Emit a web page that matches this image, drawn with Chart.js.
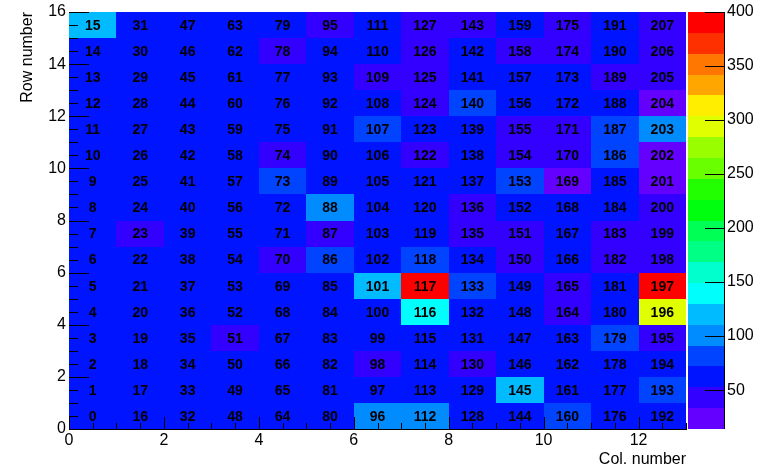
<!DOCTYPE html>
<html>
<head>
<meta charset="utf-8">
<script src="https://cdn.jsdelivr.net/npm/chart.js@4.4.1/dist/chart.umd.min.js"></script>
<style>
  html, body { margin: 0; padding: 0; background: #ffffff; }
  canvas { display: block; }
</style>
</head>
<body>
<canvas id="map" width="765" height="467"></canvas>
<script>
// Channel map: 13 columns x 16 rows, channel = column * 16 + row
const columnIndex = [0, 1, 2, 3, 4, 5, 6, 7, 8, 9, 10, 11, 12];
const rowIndex = [0, 1, 2, 3, 4, 5, 6, 7, 8, 9, 10, 11, 12, 13, 14, 15];

// Counts per column, listed from row 0 up to row 15
const col00 = [62, 60, 63, 58, 61, 64, 59, 62, 60, 63, 61, 57, 64, 60, 62, 119];
const col01 = [61, 63, 58, 62, 60, 65, 59, 44, 61, 63, 57, 62, 60, 64, 59, 61];
const col02 = [60, 62, 64, 59, 63, 61, 58, 62, 60, 57, 63, 61, 65, 59, 62, 60];
const col03 = [63, 59, 61, 45, 62, 60, 64, 58, 61, 63, 59, 62, 57, 61, 60, 63];
const col04 = [61, 60, 62, 58, 63, 60, 46, 64, 59, 82, 43, 61, 62, 60, 47, 58];
const col05 = [59, 62, 60, 63, 61, 58, 84, 45, 101, 60, 62, 64, 59, 61, 63, 44];
const col06 = [103, 61, 46, 63, 60, 121, 62, 59, 64, 60, 58, 83, 62, 45, 61, 63];
const col07 = [99, 60, 63, 58, 141, 400, 80, 62, 60, 64, 44, 59, 42, 46, 45, 43];
const col08 = [62, 59, 45, 61, 63, 81, 60, 47, 43, 62, 58, 64, 79, 61, 60, 46];
const col09 = [60, 118, 62, 59, 63, 61, 44, 46, 60, 84, 42, 47, 63, 58, 45, 61];
const col10 = [80, 62, 60, 57, 45, 43, 61, 59, 63, 24, 46, 44, 60, 62, 47, 42];
const col11 = [61, 63, 59, 82, 60, 62, 46, 43, 61, 58, 79, 85, 63, 44, 60, 62];
const col12 = [60, 78, 62, 44, 294, 389, 46, 43, 47, 27, 14, 100, 22, 45, 42, 46];

// Axis tick labels
const xTickValues = [0, 2, 4, 6, 8, 10, 12];
const yTickValues = [0, 2, 4, 6, 8, 10, 12, 14, 16];
const zTickValues = [50, 100, 150, 200, 250, 300, 350, 400];

const columnCounts = [col00, col01, col02, col03, col04, col05, col06,
                      col07, col08, col09, col10, col11, col12];

const cells = [];
columnIndex.forEach(c => {
  rowIndex.forEach(r => {
    cells.push({ x: c + 0.5, y: r + 0.5, v: columnCounts[c][r], ch: c * 16 + r });
  });
});

const allCounts = cells.map(p => p.v);
const zMin = Math.min(...allCounts);
const zMax = Math.max(...allCounts);

// Rainbow palette (violet -> red), 50 colours, 20 contour levels
const N_COLOURS = 50;
const N_LEVELS = 20;
const paletteColours = [];
for (let k = 0; k < N_COLOURS; k++) {
  const hue = k === N_COLOURS - 1 ? 0 : 280 - (k + 1) * (280 / N_COLOURS);
  paletteColours.push(`hsl(${hue}, 100%, 50%)`);
}
function levelColour(level) {
  const k = Math.floor((level + 0.99) * N_COLOURS / N_LEVELS);
  return paletteColours[Math.min(k, N_COLOURS - 1)];
}
function valueColour(v) {
  let level = Math.floor(0.01 + (v - zMin) * N_LEVELS / (zMax - zMin));
  level = Math.max(0, Math.min(N_LEVELS - 1, level));
  return levelColour(level);
}

const FONT = '"Liberation Sans", Arial, Helvetica, sans-serif';

const heatmapPlugin = {
  id: 'heatmap',
  beforeDatasetsDraw(chart) {
    const { ctx, scales: { x, y } } = chart;
    ctx.save();
    for (const p of chart.data.datasets[0].data) {
      const x0 = Math.round(x.getPixelForValue(p.x - 0.5));
      const x1 = Math.round(x.getPixelForValue(p.x + 0.5));
      const y0 = Math.round(y.getPixelForValue(p.y + 0.5));
      const y1 = Math.round(y.getPixelForValue(p.y - 0.5));
      ctx.fillStyle = valueColour(p.v);
      ctx.fillRect(x0, y0, x1 - x0, y1 - y0);
    }
    ctx.restore();
  },
  afterDatasetsDraw(chart) {
    const { ctx, chartArea, scales: { x, y, z } } = chart;
    ctx.save();

    // channel numbers
    ctx.fillStyle = '#000';
    ctx.font = 'bold 14px ' + FONT;
    ctx.textAlign = 'center';
    ctx.textBaseline = 'middle';
    for (const p of chart.data.datasets[0].data) {
      ctx.fillText(String(p.ch), x.getPixelForValue(p.x), y.getPixelForValue(p.y) + 1);
    }

    // inward tick marks
    ctx.strokeStyle = '#000';
    ctx.lineWidth = 1;
    ctx.beginPath();
    for (let v = 0; v <= 13; v += 0.5) {
      const px = Math.round(x.getPixelForValue(v)) + 0.5;
      const len = xTickValues.includes(v) ? 12 : 6;
      ctx.moveTo(px, chartArea.bottom);
      ctx.lineTo(px, chartArea.bottom - len);
    }
    for (let v = 0; v <= 16; v += 0.5) {
      const py = Math.round(y.getPixelForValue(v)) + 0.5;
      const len = yTickValues.includes(v) ? 20 : 9;
      ctx.moveTo(chartArea.left, py);
      ctx.lineTo(chartArea.left + len, py);
    }
    ctx.stroke();

    // colour scale
    const px0 = z.left + 2;
    const px1 = z.left + 38;
    const dz = (zMax - zMin) / N_LEVELS;
    for (let c = 0; c < N_LEVELS; c++) {
      const top = Math.round(z.getPixelForValue(zMin + (c + 1) * dz));
      const bot = Math.round(z.getPixelForValue(zMin + c * dz));
      ctx.fillStyle = levelColour(c);
      ctx.fillRect(px0, top, px1 - px0, bot - top);
    }
    ctx.beginPath();
    ctx.moveTo(px1 + 0.5, z.top);
    ctx.lineTo(px1 + 0.5, z.bottom);
    for (const v of zTickValues) {
      const py = Math.round(z.getPixelForValue(v)) + 0.5;
      ctx.moveTo(px1 - 19, py);
      ctx.lineTo(px1, py);
    }
    ctx.stroke();
    ctx.restore();
  }
};

const tickFont = { family: FONT, size: 16 };

new Chart(document.getElementById('map'), {
  type: 'scatter',
  data: {
    datasets: [{
      label: 'counts',
      data: cells,
      pointRadius: 0,
      pointHoverRadius: 0,
      xAxisID: 'x',
      yAxisID: 'y'
    }]
  },
  options: {
    responsive: false,
    animation: false,
    devicePixelRatio: 1,
    events: [],
    layout: { padding: { top: 12, left: 0, right: 0, bottom: 0 } },
    plugins: { legend: { display: false }, tooltip: { enabled: false } },
    scales: {
      x: {
        type: 'linear', position: 'bottom', min: 0, max: 13, z: 1,
        grid: { display: true, drawOnChartArea: false, drawTicks: false },
        border: { display: true, color: '#000', width: 1 },
        ticks: { color: '#000', font: tickFont, padding: 2, maxRotation: 0, autoSkip: false },
        afterBuildTicks: s => { s.ticks = xTickValues.map(v => ({ value: v })); },
        afterFit: s => { s.height = 38; s.paddingLeft = 0; s.paddingRight = 0; },
        title: {
          display: true, text: 'Col. number', align: 'end', color: '#000',
          font: { family: FONT, size: 16, lineHeight: 1 }, padding: { top: 0, bottom: -1 }
        }
      },
      y: {
        type: 'linear', position: 'left', min: 0, max: 16, z: 1,
        grid: { display: true, drawOnChartArea: false, drawTicks: false },
        border: { display: true, color: '#000', width: 1 },
        ticks: { color: '#000', font: tickFont, padding: 3, autoSkip: false },
        afterBuildTicks: s => { s.ticks = yTickValues.map(v => ({ value: v })); },
        afterFit: s => { s.width = 69; s.paddingTop = 0; s.paddingBottom = 0; },
        title: {
          display: true, text: 'Row number', align: 'end', color: '#000',
          font: { family: FONT, size: 16, lineHeight: 1 }, padding: { top: 19.5, bottom: 0 }
        }
      },
      z: {
        type: 'linear', position: 'right', min: zMin, max: zMax,
        grid: { display: false, drawOnChartArea: false, drawTicks: false },
        border: { display: false },
        ticks: { color: '#000', font: tickFont, padding: 41, autoSkip: false },
        afterBuildTicks: s => { s.ticks = zTickValues.map(v => ({ value: v })); },
        afterFit: s => { s.width = 79; s.paddingTop = 0; s.paddingBottom = 0; }
      }
    }
  },
  plugins: [heatmapPlugin]
});
</script>
</body>
</html>
